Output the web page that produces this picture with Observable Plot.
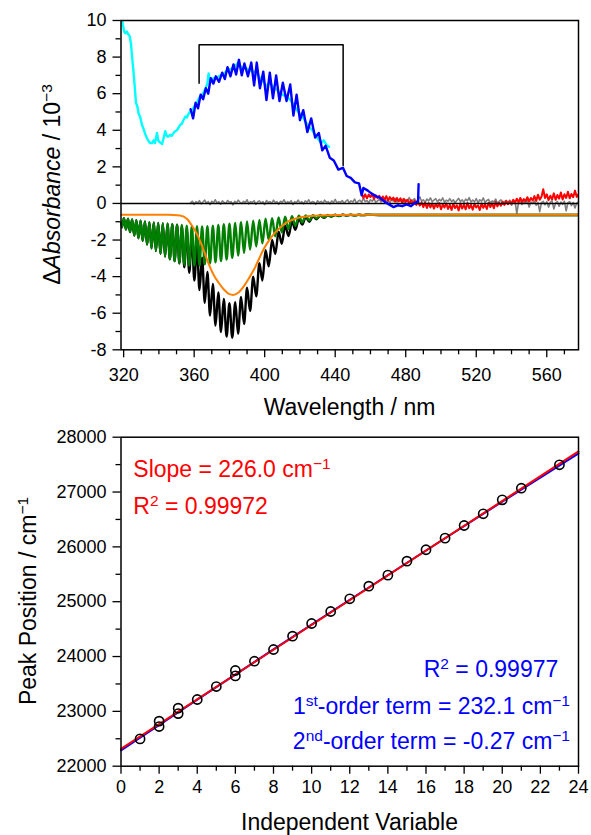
<!DOCTYPE html>
<html>
<head>
<meta charset="utf-8">
<script src="https://cdn.jsdelivr.net/npm/d3@7"></script>
<script src="https://cdn.jsdelivr.net/npm/@observablehq/plot@0.6"></script>
<style>
  body { margin: 0; background: #fff; }
  #chart { width: 591px; }
  #chart svg { display: block; }
</style>
</head>
<body>
<div id="chart"></div>
<script>
// ---------------- Top panel data ----------------
const wlTicks = [320, 360, 400, 440, 480, 520, 560];
const wlMinor = [330, 340, 350, 370, 380, 390, 410, 420, 430, 450, 460, 470, 490, 500, 510, 530, 540, 550, 570];
const absTicks = [-8, -6, -4, -2, 0, 2, 4, 6, 8, 10];
const absMinor = [-7, -5, -3, -1, 1, 3, 5, 7, 9];

const cyanNm = [318.6, 319.5, 320.3, 321.0, 321.8, 322.6, 323.4, 324.2, 324.8, 325.5,
  326.2, 327.0, 327.8, 328.5, 329.3, 330.4, 331.4, 332.2, 333.3, 334.2,
  335.0, 336.1, 337.0, 337.8, 338.9, 339.6, 340.4, 341.8, 342.6, 343.6,
  344.4, 345.2, 346.5, 347.4, 348.3, 349.3, 350.2, 351.2, 352.1, 353.0,
  353.9, 355.0, 355.9, 356.8, 357.8, 358.8, 360.0, 361.5, 363.0, 365.0,
  366.5, 367.5, 368.2, 369.0, 371, 373, 375, 377, 379, 381,
  383, 385, 387, 389, 391, 393, 395, 397, 399, 401,
  403, 405, 407, 409, 411, 413, 415, 417, 419, 421,
  423, 425, 427, 429, 430.5, 432, 433.5, 435, 436.5];
const cyanVal = [10.4, 9.8, 9.4, 9.3, 9.4, 9.25, 9.15, 8.7, 8.0, 7.3,
  6.5, 5.5, 5.3, 4.9, 4.75, 4.3, 4.05, 3.8, 3.55, 3.4,
  3.3, 3.3, 3.45, 3.3, 3.85, 3.45, 3.35, 3.25, 3.55, 3.95,
  3.7, 3.65, 3.75, 3.7, 3.85, 3.95, 4.0, 4.15, 4.3, 4.35,
  4.55, 4.75, 4.7, 4.9, 5.05, 5.05, 5.3, 5.5, 5.8, 6.0,
  6.3, 6.55, 7.1, 6.7, 6.85, 6.9, 7.0, 7.1, 7.3, 7.35,
  7.5, 7.7, 7.4, 7.4, 7.3, 7.2, 7.2, 6.9, 6.7, 6.4,
  6.6, 6.3, 6.2, 6.0, 5.9, 5.8, 5.6, 5.3, 5.0, 4.8,
  4.5, 4.2, 4.0, 3.7, 3.5, 3.3, 3.45, 3.2, 3.1];

const blueNm = [358.0, 359.4, 360.8, 362.2, 363.7, 365.1, 366.6, 368.0, 369.4, 370.9,
  372.3, 374.1, 375.9, 377.4, 378.9, 380.6, 382.3, 383.8, 385.4, 387.0,
  388.5, 390.5, 392.4, 394.0, 395.5, 397.3, 399.2, 401.0, 402.9, 404.7,
  406.5, 408.4, 410.3, 412.4, 414.5, 416.3, 418.1, 420.0, 421.9, 424.2,
  426.4, 428.6, 430.7, 432.7, 434.6, 436.9, 439.2, 441.8, 444.4, 446.5,
  448.8, 451.2, 453.5, 455.0, 456.0, 458.5, 460.5, 463.0, 465.5, 468.0,
  470.5, 473.0, 475.5, 478.0, 480.5, 483.0, 485.5, 487.0, 487.3];
const blueVal = [5.15, 4.65, 5.5, 5.2, 5.95, 5.7, 6.3, 6.0, 6.85, 6.55,
  6.95, 6.65, 7.15, 6.8, 7.45, 6.95, 7.6, 7.05, 7.85, 7.0,
  7.65, 6.95, 7.7, 6.45, 7.7, 6.3, 7.2, 5.65, 7.15, 5.75,
  7.0, 5.6, 6.6, 5.6, 6.5, 4.8, 5.95, 4.55, 5.1, 3.9,
  4.65, 3.6, 3.85, 2.9, 3.15, 2.5, 2.35, 1.85, 1.95, 1.5,
  1.4, 1.15, 1.1, 0.45, 0.85, 0.7, 0.55, 0.4, 0.3, 0.1,
  -0.05, -0.2, -0.1, -0.15, -0.05, -0.15, 0.05, 0.1, 1.05];

// gray: sampled every 1 nm from 358 nm
const grayStart = 358, grayStep = 1;
const grayVal = [0.05, 0.12, -0.05, 0.1, 0.02, 0.15, -0.02, 0.08, 0.18, 0.0,
  0.1, -0.06, 0.12, 0.04, 0.2, 0.02, 0.1, -0.04, 0.14, 0.06,
  0.0, 0.16, 0.05, 0.1, -0.08, 0.12, 0.03, 0.18, 0.06, 0.0,
  0.12, 0.04, 0.2, -0.02, 0.1, 0.05, 0.15, -0.05, 0.08, 0.14,
  0.02, 0.1, -0.06, 0.16, 0.05, 0.1, 0.0, 0.18, 0.04, 0.1,
  -0.04, 0.12, 0.06, 0.2, 0.0, 0.1, 0.04, 0.15, -0.06, 0.1,
  0.05, 0.18, 0.02, 0.1, -0.02, 0.14, 0.06, 0.2, 0.0, 0.1,
  0.08, -0.05, 0.15, 0.04, 0.12, 0.0, 0.18, 0.06, 0.1, -0.02,
  0.14, 0.05, 0.22, 0.02, 0.1, 0.06, 0.16, 0.0, 0.12, 0.2,
  0.04, 0.14, 0.08, 0.24, 0.02, 0.12, 0.18, 0.06, 0.28, 0.1,
  0.16, 0.04, 0.2, 0.12, 0.26, 0.06, 0.14, 0.22, 0.08, 0.18,
  0.3, 0.1, 0.16, 0.04, 0.22, 0.12, 0.28, 0.08, 0.18, 0.12,
  0.24, 0.06, 0.2, 0.14, 0.32, 0.1, 0.18, 0.26, 0.08, 0.2,
  0.36, 0.12, 0.2, 0.06, 0.24, 0.14, 0.3, 0.1, 0.18, 0.26,
  0.08, 0.22, 0.14, 0.3, 0.06, 0.18, 0.12, 0.26, 0.1, 0.2,
  0.04, 0.16, 0.28, 0.1, 0.2, 0.06, 0.24, 0.14, 0.32, 0.08,
  0.18, 0.1, 0.26, 0.04, 0.2, 0.12, 0.3, 0.06, 0.16, 0.22,
  0.02, 0.14, 0.08, 0.24, 0.0, 0.12, 0.2, -0.04, 0.1, 0.16,
  0.04, 0.18, -0.1, 0.08, 0.14, -0.55, 0.06, 0.12, -0.06, 0.1,
  0.02, 0.16, -0.2, 0.08, 0.0, 0.14, -0.1, 0.06, -0.45, 0.04,
  0.12, -0.08, 0.1, -0.2, 0.06, 0.14, -0.3, 0.02, 0.1, -0.15,
  0.08, -0.05, 0.12, -0.4, 0.04, 0.1, -0.12, 0.06, -0.25, 0.02,
  0.08];

// red: sampled every 1 nm from 455 nm
const redStart = 455, redStep = 1;
const redVal = [0.55, 0.3, 0.5, 0.28, 0.48, 0.35, 0.52, 0.25, 0.45, 0.3,
  0.42, 0.2, 0.38, 0.18, 0.4, 0.15, 0.35, 0.2, 0.32, 0.1,
  0.3, 0.12, 0.28, 0.05, 0.25, 0.08, 0.2, -0.02, 0.18, 0.0,
  0.15, -0.08, 0.1, -0.12, 0.06, -0.2, 0.04, -0.25, 0.02, -0.22,
  0.0, -0.28, -0.04, -0.2, 0.02, -0.32, -0.06, -0.22, 0.0, -0.3,
  -0.08, -0.35, -0.02, -0.25, -0.1, -0.38, 0.0, -0.28, -0.06, -0.32,
  0.02, -0.26, -0.08, -0.34, -0.02, -0.22, -0.1, -0.36, 0.0, -0.24,
  -0.06, -0.3, 0.04, -0.2, 0.0, -0.26, 0.08, -0.16, 0.04, -0.12,
  0.1, -0.08, 0.14, -0.04, 0.12, 0.0, 0.2, 0.02, 0.26, 0.06,
  0.3, 0.08, 0.24, 0.12, 0.34, 0.1, 0.3, 0.16, 0.4, 0.14,
  0.48, 0.2, 0.36, 0.78, 0.3, 0.5, 0.18, 0.42, 0.22, 0.55,
  0.2, 0.46, 0.26, 0.6, 0.22, 0.5, 0.3, 0.64, 0.28, 0.52,
  0.34, 0.7, 0.36, 0.5];

const fitNm = [318.5, 319.0, 320.2, 321.3, 322.5, 323.6, 324.8, 326.0, 327.2, 328.4,
  329.6, 330.8, 332.1, 333.3, 334.6, 335.8, 337.1, 338.3, 339.6, 340.9,
  342.2, 343.5, 344.9, 346.2, 347.6, 348.9, 350.3, 351.6, 353.0, 354.4,
  355.8, 357.2, 358.7, 360.1, 361.6, 363.0, 364.5, 366.0, 367.5, 369.0,
  370.6, 372.1, 373.7, 375.2, 376.8, 378.4, 380.0, 381.6, 383.3, 384.9,
  386.6, 388.3, 390.0, 391.7, 393.5, 395.2, 397.0, 398.7, 400.5, 402.3,
  404.2, 406.0, 407.9, 409.7, 411.6, 413.5, 415.5, 417.4, 419.4, 421.3,
  423.3, 425.3, 427.4, 429.4, 431.5, 433.6, 435.7, 437.8, 440.0, 442.1,
  444.3, 446.5, 448.8, 451.0, 453.3, 455.6, 458.0, 465.0, 578.0];
const greenVal = [-1.05, -1.3, -0.81, -1.43, -0.84, -1.57, -0.88, -1.75, -0.91, -1.9,
  -0.95, -2.05, -0.99, -2.25, -1.02, -2.45, -1.04, -2.6, -1.06, -2.75,
  -1.09, -2.9, -1.11, -3.05, -1.14, -3.15, -1.16, -3.25, -1.18, -3.35,
  -1.21, -3.4, -1.23, -3.4, -1.25, -3.38, -1.26, -3.33, -1.24, -3.28,
  -1.21, -3.22, -1.17, -3.15, -1.14, -3.07, -1.11, -2.97, -1.07, -2.85,
  -1.03, -2.7, -0.98, -2.52, -0.94, -2.35, -0.9, -2.18, -0.84, -2.0,
  -0.81, -1.8, -0.77, -1.58, -0.73, -1.4, -0.7, -1.22, -0.67, -1.04,
  -0.65, -0.93, -0.64, -0.83, -0.63, -0.76, -0.63, -0.71, -0.62, -0.68,
  -0.62, -0.66, -0.62, -0.65, -0.62, -0.64, -0.62, -0.63, -0.63];
const blackVal = [-1.05, -1.3, -0.81, -1.43, -0.84, -1.57, -0.88, -1.75, -0.91, -1.9,
  -0.95, -2.05, -0.99, -2.25, -1.02, -2.45, -1.04, -2.6, -1.06, -2.75,
  -1.09, -2.9, -1.11, -3.05, -1.14, -3.15, -1.16, -3.28, -1.26, -3.49,
  -1.43, -3.79, -1.82, -4.21, -2.31, -4.74, -2.97, -5.43, -3.74, -6.13,
  -4.40, -6.67, -4.86, -7.03, -5.22, -7.28, -5.45, -7.34, -5.40, -7.11,
  -5.11, -6.59, -4.61, -5.88, -4.00, -5.08, -3.26, -4.21, -2.55, -3.44,
  -1.99, -2.76, -1.55, -2.21, -1.21, -1.78, -0.98, -1.44, -0.83, -1.16,
  -0.75, -1.00, -0.69, -0.87, -0.66, -0.78, -0.65, -0.72, -0.63, -0.69,
  -0.62, -0.66, -0.62, -0.65, -0.62, -0.64, -0.62, -0.63, -0.63];

const orangeNm = [318.5, 345, 352, 356, 359, 362, 365, 368, 371, 374,
  377, 380, 382, 385, 388, 391, 394, 397, 400, 403,
  406, 409, 412, 416, 420, 426, 435, 450, 578];
const orangeVal = [-0.62, -0.62, -0.66, -0.85, -1.25, -1.75, -2.45, -3.25, -3.9, -4.35,
  -4.72, -4.96, -5.0, -4.88, -4.55, -4.1, -3.6, -2.98, -2.4, -1.95,
  -1.58, -1.3, -1.07, -0.88, -0.76, -0.68, -0.64, -0.62, -0.62];

const bracketNm = [362.8, 362.8, 444.5, 444.5];
const bracketVal = [6.57, 8.67, 8.67, 2.07];

// ---------------- Bottom panel data ----------------
const ivTicks = [0, 2, 4, 6, 8, 10, 12, 14, 16, 18, 20, 22, 24];
const ivMinor = [1, 3, 5, 7, 9, 11, 13, 15, 17, 19, 21, 23];
const ppTicks = [22000, 23000, 24000, 25000, 26000, 27000, 28000];
const ppMinor = [22500, 23500, 24500, 25500, 26500, 27500];

const peakIndex = [1, 2, 2, 3, 3, 4, 5, 6, 6, 7, 8, 9, 10, 11, 12, 13, 14, 15, 16, 17, 18, 19, 20, 21, 23];
const peakPos = [22498, 22821, 22723, 23058, 22960, 23216, 23453, 23745, 23647, 23915, 24128, 24371, 24602,
  24821, 25053, 25283, 25484, 25739, 25947, 26159, 26390, 26603, 26858, 27070, 27497];

const linFitX = [0, 24];
const linFitY = [22316, 27740];
const quadFitX = [0, 4, 8, 12, 16, 20, 24];
const quadFitY = [22290, 23214, 24130, 25036, 25934, 26824, 27705];

// ---------------- helpers ----------------
const FONT = "'Liberation Sans', Arial, Helvetica, sans-serif";
const toRows = (xs, ys) => xs.map((x, i) => ({x, y: ys[i]}));
const stepRows = (start, step, ys) => ys.map((y, i) => ({x: start + i * step, y}));
const fmt = d => String(d);
const blank = () => "";

// ---------------- Top plot ----------------
const topPlot = Plot.plot({
  width: 591, height: 425,
  marginTop: 20, marginRight: 13, marginBottom: 75.7, marginLeft: 120.5,
  style: {fontFamily: FONT, fontSize: "18px", color: "#000", background: "#fff"},
  x: {domain: [318.5, 578]},
  y: {domain: [-8, 10]},
  marks: [
    Plot.axisX(wlMinor, {tickSize: 5, tickFormat: blank, label: null, strokeWidth: 1.3}),
    Plot.axisX(wlTicks, {tickSize: 8, tickPadding: 10, tickFormat: fmt, label: null, strokeWidth: 1.3}),
    Plot.axisY(absMinor, {tickSize: 5, tickFormat: blank, label: null, strokeWidth: 1.3}),
    Plot.axisY(absTicks, {tickSize: 8, tickPadding: 6.5, tickFormat: fmt, label: null, strokeWidth: 1.3}),
    Plot.line(stepRows(grayStart, grayStep, grayVal), {x: "x", y: "y", stroke: "#808080", strokeWidth: 1.6, clip: true}),
    Plot.line(stepRows(redStart, redStep, redVal), {x: "x", y: "y", stroke: "#ff0000", strokeWidth: 2, clip: true}),
    Plot.ruleY([0], {stroke: "#000", strokeWidth: 1.5}),
    Plot.line(toRows(fitNm, blackVal), {x: "x", y: "y", stroke: "#000", strokeWidth: 2.4, curve: "monotone-x", clip: true}),
    Plot.line(toRows(fitNm, greenVal), {x: "x", y: "y", stroke: "#008000", strokeWidth: 2.4, curve: "monotone-x", clip: true}),
    Plot.line(toRows(orangeNm, orangeVal), {x: "x", y: "y", stroke: "#ff8000", strokeWidth: 2, curve: "monotone-x", clip: true}),
    Plot.line(toRows(cyanNm, cyanVal), {x: "x", y: "y", stroke: "#00ffff", strokeWidth: 2.4, clip: true}),
    Plot.line(toRows(blueNm, blueVal), {x: "x", y: "y", stroke: "#0000ff", strokeWidth: 2.4, clip: true}),
    Plot.line(toRows(bracketNm, bracketVal), {x: "x", y: "y", stroke: "#000", strokeWidth: 1.5}),
    Plot.frame({stroke: "#000", strokeWidth: 1.5})
  ]
});

// ---------------- Bottom plot ----------------
const bottomPlot = Plot.plot({
  width: 591, height: 410,
  marginTop: 11.7, marginRight: 13, marginBottom: 69.3, marginLeft: 120.5,
  style: {fontFamily: FONT, fontSize: "18px", color: "#000", background: "#fff"},
  x: {domain: [0, 24]},
  y: {domain: [22000, 28000]},
  marks: [
    Plot.axisX(ivMinor, {tickSize: 5, tickFormat: blank, label: null, strokeWidth: 1.3}),
    Plot.axisX(ivTicks, {tickSize: 8, tickPadding: 6.3, tickFormat: fmt, label: null, strokeWidth: 1.3}),
    Plot.axisY(ppMinor, {tickSize: 5, tickFormat: blank, label: null, strokeWidth: 1.3}),
    Plot.axisY(ppTicks, {tickSize: 8, tickPadding: 6.5, tickFormat: fmt, label: null, strokeWidth: 1.3}),
    Plot.line(toRows(quadFitX, quadFitY), {x: "x", y: "y", stroke: "#0000ff", strokeWidth: 2, curve: "natural"}),
    Plot.line(toRows(linFitX, linFitY), {x: "x", y: "y", stroke: "#ff0000", strokeWidth: 2}),
    Plot.dot(toRows(peakIndex, peakPos), {x: "x", y: "y", r: 4.6, stroke: "#000", strokeWidth: 1.6, fill: "none"}),
    Plot.frame({stroke: "#000", strokeWidth: 1.5})
  ]
});

// ---------------- Text (titles & annotations) ----------------
function addText(svg, opts, parts) {
  const t = d3.select(svg).append("text")
    .attr("text-anchor", opts.anchor || "start")
    .attr("font-size", opts.size || 23)
    .attr("fill", opts.color || "#000");
  if (opts.rotate) t.attr("transform", `translate(${opts.x},${opts.y}) rotate(-90)`);
  else t.attr("x", opts.x).attr("y", opts.y);
  let raised = false;
  for (const p of parts) {
    const s = t.append("tspan").text(p.t);
    if (p.sup && !raised) { s.attr("dy", -8.5).attr("font-size", 15.5); raised = true; }
    else if (p.sup) { s.attr("font-size", 15.5); }
    else if (raised) { s.attr("dy", 8.5); raised = false; }
    if (p.it) s.attr("font-style", "italic");
  }
}

addText(topPlot, {x: 349.5, y: 415, anchor: "middle"}, [{t: "Wavelength / nm"}]);
addText(topPlot, {x: 60, y: 184.5, anchor: "middle", rotate: true},
  [{t: "\u0394"}, {t: "Absorbance", it: true}, {t: " / 10"}, {t: "\u22123", sup: true}]);

addText(bottomPlot, {x: 349.5, y: 404.5, anchor: "middle"}, [{t: "Independent Variable"}]);
addText(bottomPlot, {x: 36, y: 176, anchor: "middle", rotate: true},
  [{t: "Peak Position / cm"}, {t: "\u22121", sup: true}]);

addText(bottomPlot, {x: 133.3, y: 52.3, color: "#ff0000"},
  [{t: "Slope = 226.0 cm"}, {t: "\u22121", sup: true}]);
addText(bottomPlot, {x: 133.3, y: 89.3, color: "#ff0000"},
  [{t: "R"}, {t: "2", sup: true}, {t: " = 0.99972"}]);

addText(bottomPlot, {x: 558.3, y: 252.3, color: "#0000ff", anchor: "end"},
  [{t: "R"}, {t: "2", sup: true}, {t: " = 0.99977"}]);
addText(bottomPlot, {x: 570, y: 289.3, color: "#0000ff", anchor: "end"},
  [{t: "1"}, {t: "st", sup: true}, {t: "-order term = 232.1 cm"}, {t: "\u22121", sup: true}]);
addText(bottomPlot, {x: 570, y: 324, color: "#0000ff", anchor: "end"},
  [{t: "2"}, {t: "nd", sup: true}, {t: "-order term = -0.27 cm"}, {t: "\u22121", sup: true}]);

document.getElementById("chart").append(topPlot, bottomPlot);
</script>
</body>
</html>
